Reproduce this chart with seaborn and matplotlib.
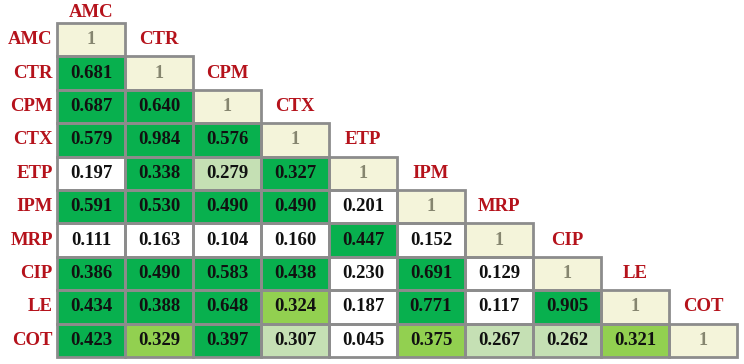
import numpy as np
import pandas as pd
import seaborn as sns
import matplotlib
matplotlib.use("Agg")
import matplotlib.pyplot as plt
from matplotlib.colors import ListedColormap, BoundaryNorm
from matplotlib.patches import Rectangle

labels = ["AMC", "CTR", "CPM", "CTX", "ETP", "IPM", "MRP", "CIP", "LE", "COT"]

# lower triangle correlation values (row by row, diagonal excluded)
row_CTR = [0.681]
row_CPM = [0.687, 0.640]
row_CTX = [0.579, 0.984, 0.576]
row_ETP = [0.197, 0.338, 0.279, 0.327]
row_IPM = [0.591, 0.530, 0.490, 0.490, 0.201]
row_MRP = [0.111, 0.163, 0.104, 0.160, 0.447, 0.152]
row_CIP = [0.386, 0.490, 0.583, 0.438, 0.230, 0.691, 0.129]
row_LE = [0.434, 0.388, 0.648, 0.324, 0.187, 0.771, 0.117, 0.905]
row_COT = [0.423, 0.329, 0.397, 0.307, 0.045, 0.375, 0.267, 0.262, 0.321]
rows = [[], row_CTR, row_CPM, row_CTX, row_ETP, row_IPM, row_MRP, row_CIP, row_LE, row_COT]

# significance class of each cell: 3 dark green, 2 light green, 1 pale green, 0 none
lev_CTR = [3]
lev_CPM = [3, 3]
lev_CTX = [3, 3, 3]
lev_ETP = [0, 3, 1, 3]
lev_IPM = [3, 3, 3, 3, 0]
lev_MRP = [0, 0, 0, 0, 3, 0]
lev_CIP = [3, 3, 3, 3, 0, 3, 0]
lev_LE = [3, 3, 3, 2, 0, 3, 0, 3]
lev_COT = [3, 2, 3, 1, 0, 2, 1, 1, 2]
levels = [[], lev_CTR, lev_CPM, lev_CTX, lev_ETP, lev_IPM, lev_MRP, lev_CIP, lev_LE, lev_COT]

n = len(labels)
vals = np.full((n, n), np.nan)
lev = np.full((n, n), np.nan)
for i in range(n):
    vals[i, i] = 1.0
    lev[i, i] = 4
    for j, (v, l) in enumerate(zip(rows[i], levels[i])):
        vals[i, j] = v
        lev[i, j] = l

lev_df = pd.DataFrame(lev, index=labels, columns=labels)
mask = np.triu(np.ones((n, n), dtype=bool), k=1)

cmap = ListedColormap(["#FFFFFF", "#C5E0B4", "#92D050", "#08B04E", "#F4F4DA"])
norm = BoundaryNorm([-0.5, 0.5, 1.5, 2.5, 3.5, 4.5], cmap.N)

fig = plt.figure(figsize=(7.44, 3.64), dpi=100)
ax = fig.add_axes([57 / 744, 1 - 357 / 364, (737 - 57) / 744, (357 - 23) / 364])

sns.heatmap(lev_df, mask=mask, cmap=cmap, norm=norm, cbar=False,
            linewidths=0, ax=ax, square=False)

# grey borders only around the drawn (lower-triangle) cells
for i in range(n):
    for j in range(i + 1):
        ax.add_patch(Rectangle((j, i), 1, 1, facecolor="none", edgecolor="#8C8C8C",
                               linewidth=2, clip_on=False, zorder=3))

serif = "Liberation Serif"
red = "#B5121B"

for i in range(n):
    for j in range(i + 1):
        if i == j:
            ax.text(j + 0.5, i + 0.5, "1", ha="center", va="center",
                    fontsize=13, fontweight="bold", family=serif, color="#85856F", zorder=4)
        else:
            ax.text(j + 0.5, i + 0.5, f"{vals[i, j]:.3f}", ha="center", va="center",
                    fontsize=13.5, fontweight="bold", family=serif, color="#111111", zorder=4)

# column labels sitting above each diagonal cell
for k, name in enumerate(labels):
    y = k - 0.5 if k > 0 else -0.32
    ax.text(k + 0.5, y, name, ha="center", va="center", fontsize=13.5,
            fontweight="bold", family=serif, color=red, clip_on=False)

ax.set_xticks([])
ax.set_xlabel("")
ax.set_ylabel("")
ax.set_yticks(np.arange(n) + 0.5)
ax.set_yticklabels(labels, rotation=0, fontsize=13.5, fontweight="bold",
                   family=serif, color=red)
ax.tick_params(axis="y", length=0, pad=3)
for s in ax.spines.values():
    s.set_visible(False)

fig.savefig("out.png", dpi=100)
